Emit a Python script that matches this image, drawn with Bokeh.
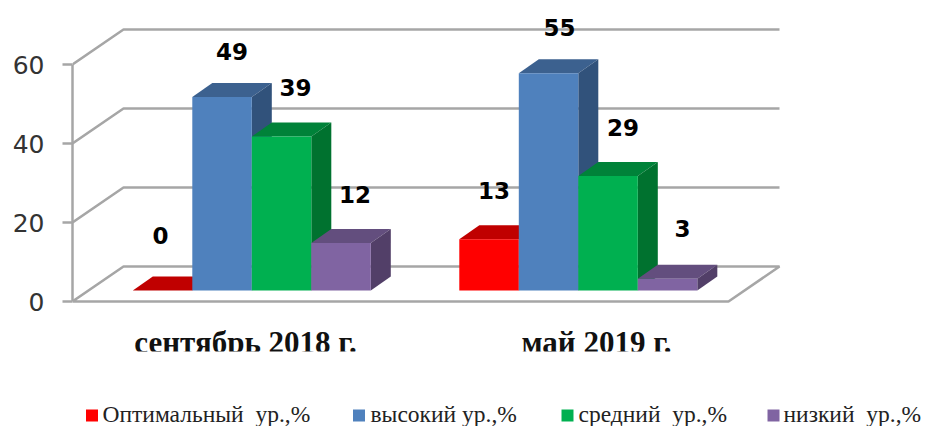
from bokeh.plotting import figure
from bokeh.models import FixedTicker
from bokeh.core.properties import value
from bokeh.embed import file_html
from bokeh.resources import INLINE

categories = ["сентябрь 2018 г.", "май 2019 г."]
series_names = ["Оптимальный\u00a0\u00a0ур.,%", "высокий ур.,%", "средний\u00a0\u00a0ур.,%", "низкий\u00a0\u00a0ур.,%"]
optimal = [0, 13]
high = [49, 55]
medium = [39, 29]
low = [12, 3]
y_ticks = [0, 20, 40, 60]

front_colors = ["#FF0000", "#4F81BD", "#00B050", "#8064A2"]
top_colors = ["#C00000", "#3C618F", "#008239", "#634E7E"]
side_colors = ["#A00000", "#31527B", "#00722F", "#523F68"]
GRID = "#A6A6A6"

# layout (image pixels -> data)
W, H = 925, 426
LEFT = 72
PXX = 326.5      # pixels per category step
PXY = 3.95       # pixels per value unit
CX0 = 251.3      # pixel x of first category centre
Y0 = 301         # pixel y of value 0 on front plane
def X(px): return (px - CX0) / PXX
def Y(py): return (Y0 - py) / PXY

p = figure(width=W, height=H, toolbar_location=None, output_backend="svg",
           x_range=(X(LEFT), X(W)), y_range=(Y(H), Y(0)),
           min_border_left=LEFT, min_border_right=0, min_border_top=0, min_border_bottom=0,
           x_axis_location=None, outline_line_color=None)
p.grid.visible = False
p.background_fill_color = "white"
p.border_fill_color = "white"

ax = p.yaxis[0]
ax.ticker = FixedTicker(ticks=y_ticks)
ax.bounds = (0, 60)
ax.axis_line_color = GRID
ax.axis_line_width = 2.5
ax.major_tick_line_color = GRID
ax.major_tick_line_width = 2.5
ax.major_tick_out = 10
ax.major_tick_in = 0
ax.minor_tick_line_color = None
ax.major_label_standoff = 18
ax.major_label_text_font = "DejaVu Sans"
ax.major_label_text_font_size = "25px"
ax.major_label_text_color = "#333333"

# walls
wall_dx, wall_dy = 51 / PXX, 35 / PXY
x_left, x_front_right = X(LEFT), X(728)
for t in y_ticks:
    if t == 0:
        xs = [x_left, x_front_right, x_front_right + wall_dx, x_left + wall_dx, x_left]
        ys = [0, 0, wall_dy, wall_dy, 0]
    else:
        xs = [x_left, x_left + wall_dx, x_front_right + wall_dx]
        ys = [t, t + wall_dy, t + wall_dy]
    p.line(xs, ys, line_color=GRID, line_width=2.5)

# bars
values = [optimal, high, medium, low]
bar_w = 59.5 / PXX
base = Y(290)
bar_dx, bar_dy = 20 / PXX, 14 / PXY
label_dx = [[-2, 5], [10, 11], [14, 15], [14, 15]]
label_dy = [[-6, 0], [4, 3], [0, 1], [0, -1]]
for s, vals in enumerate(values):
    lefts = [c + (s - 2) * bar_w for c in range(len(categories))]
    rights = [l + bar_w for l in lefts]
    tops = [base + v for v in vals]
    p.patches([[l, r, r + bar_dx, l + bar_dx] for l, r in zip(lefts, rights)],
              [[t, t, t + bar_dy, t + bar_dy] for t in tops],
              fill_color=top_colors[s], line_color=None)
    p.patches([[r, r + bar_dx, r + bar_dx, r] for r in rights],
              [[base, base + bar_dy, t + bar_dy, t] for t in tops],
              fill_color=side_colors[s], line_color=None)
    p.quad(left=lefts, right=rights, bottom=[base] * len(vals), top=tops,
           fill_color=front_colors[s], line_color=None)

for s, vals in enumerate(values):
    lefts = [c + (s - 2) * bar_w for c in range(len(categories))]
    p.text([l + bar_w / 2 + d / PXX for l, d in zip(lefts, label_dx[s])],
           [base + v + (14 + 35 - e) / PXY for v, e in zip(vals, label_dy[s])],
           text=[str(v) for v in vals],
           text_font=value("DejaVu Sans"), text_font_style="bold", text_font_size="23px",
           text_color="#000000", text_align="center", text_baseline="middle")

# category labels, cropped at the bottom as in the reference
p.text([X(245), X(596)], [Y(342)] * 2, text=categories,
       text_font=value("Liberation Serif"), text_font_style="bold", text_font_size="31px",
       text_color="#111111", text_align="center", text_baseline="middle")
p.quad(left=[X(100)], right=[X(760)], bottom=[Y(362)], top=[Y(351)], fill_color="white", line_color=None)

# legend
sq_x = [91.5, 358.5, 567, 773]
tx_x = [102, 370, 578, 783]
p.scatter([X(v) for v in sq_x], [Y(415)] * 4, marker="square", size=12,
          fill_color=front_colors, line_color=None)
p.text([X(v) for v in tx_x], [Y(413)] * 4, text=series_names,
       text_font=value("Liberation Serif"), text_font_size="23.5px",
       text_color="#222222", text_align="left", text_baseline="middle")

open("out.html", "w").write(file_html(p, INLINE))
